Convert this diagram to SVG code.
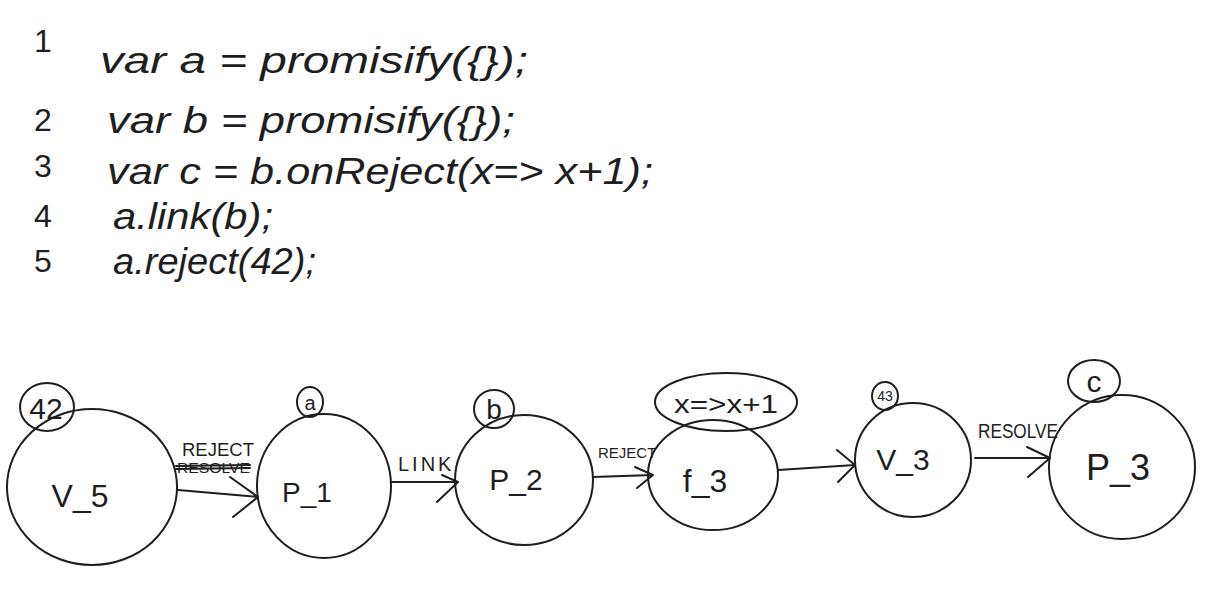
<svg xmlns="http://www.w3.org/2000/svg" width="1207" height="593" viewBox="0 0 1207 593">
<style>
  .ln { fill: none; stroke: #1e1e1e; stroke-width: 2; stroke-linecap: round; stroke-linejoin: round; }
  .t { font-family: "Liberation Sans", "DejaVu Sans", sans-serif; fill: #1e1e1e; }
  .code { font-family: "Liberation Sans", "DejaVu Sans", sans-serif; font-style: italic; fill: #1e1e1e; font-size: 37px; }
  .num { font-family: "Liberation Sans", "DejaVu Sans", sans-serif; fill: #1e1e1e; font-size: 32px; }
</style>
<rect width="1207" height="593" fill="#ffffff"/>
<g id="code">
  <text class="num" x="34" y="52">1</text>
  <text class="code" x="100" y="73" textLength="428" lengthAdjust="spacingAndGlyphs">var a = promisify({});</text>
  <text class="num" x="34" y="131">2</text>
  <text class="code" x="107" y="133" textLength="408" lengthAdjust="spacingAndGlyphs">var b = promisify({});</text>
  <text class="num" x="34" y="177">3</text>
  <text class="code" x="107" y="184" textLength="546" lengthAdjust="spacingAndGlyphs">var c = b.onReject(x=&gt; x+1);</text>
  <text class="num" x="34" y="227">4</text>
  <text class="code" x="113" y="229" textLength="160" lengthAdjust="spacingAndGlyphs">a.link(b);</text>
  <text class="num" x="34" y="272">5</text>
  <text class="code" x="113" y="274" textLength="203" lengthAdjust="spacingAndGlyphs">a.reject(42);</text>
</g>
<g id="connectors">
  <path class="ln" d="M178,490 L258,497 M230,477 L258,497 L233,517"/>
  <path class="ln" d="M391,482 L458,482 M442,475 L458,482 L437,502"/>
  <path class="ln" d="M593,477 L653,475 M635,467 L653,475 L637,488"/>
  <path class="ln" d="M778,470 L855,465 M837,450 L855,465 L838,482"/>
  <path class="ln" d="M975,458 L1050,458 M1027,447 L1050,458 L1028,477"/>
  <text class="t" x="182" y="456" font-size="19" textLength="72" lengthAdjust="spacingAndGlyphs">REJECT</text>
  <text class="t" x="177" y="473" font-size="15" textLength="73" lengthAdjust="spacingAndGlyphs">RESOLVE</text>
  <path class="ln" d="M176,466 L250,465 M176,469 L250,468" stroke-width="2.5"/>
  <text class="t" x="398" y="471" font-size="20" letter-spacing="3">LINK</text>
  <text class="t" x="598" y="458" font-size="15">REJECT</text>
  <text class="t" x="978" y="438" font-size="20" textLength="80" lengthAdjust="spacingAndGlyphs">RESOLVE</text>
</g>
<g id="node-v5">
  <ellipse class="ln" cx="92" cy="487" rx="85" ry="78"/>
  <text class="t" x="80" y="507" font-size="32" text-anchor="middle">V_5</text>
</g>
<g id="badge-42">
  <ellipse class="ln" cx="47" cy="407" rx="27" ry="24"/>
  <text class="t" x="46" y="419" font-size="30" text-anchor="middle">42</text>
</g>
<g id="node-p1">
  <ellipse class="ln" cx="324" cy="486" rx="67" ry="72"/>
  <text class="t" x="307" y="502" font-size="28" text-anchor="middle">P_1</text>
</g>
<g id="badge-a">
  <ellipse class="ln" cx="310" cy="402" rx="13" ry="15"/>
  <text class="t" x="310" y="410" font-size="20" text-anchor="middle">a</text>
</g>
<g id="node-p2">
  <ellipse class="ln" cx="524" cy="480" rx="69" ry="65"/>
  <text class="t" x="516" y="490" font-size="30" text-anchor="middle">P_2</text>
</g>
<g id="badge-b">
  <ellipse class="ln" cx="494" cy="409" rx="20" ry="19"/>
  <text class="t" x="494" y="419" font-size="28" text-anchor="middle">b</text>
</g>
<g id="node-f3">
  <ellipse class="ln" cx="713" cy="475" rx="65" ry="55"/>
  <text class="t" x="705" y="492" font-size="32" text-anchor="middle">f_3</text>
</g>
<g id="badge-fn">
  <ellipse class="ln" cx="726" cy="402" rx="71" ry="29"/>
  <text class="t" x="726" y="413" font-size="26" text-anchor="middle" textLength="104" lengthAdjust="spacingAndGlyphs">x=&gt;x+1</text>
</g>
<g id="node-v3">
  <ellipse class="ln" cx="913" cy="460" rx="58" ry="57"/>
  <text class="t" x="903" y="470" font-size="30" text-anchor="middle">V_3</text>
</g>
<g id="badge-43">
  <ellipse class="ln" cx="885" cy="396" rx="13" ry="14"/>
  <text class="t" x="885" y="401" font-size="14" text-anchor="middle">43</text>
</g>
<g id="node-p3">
  <ellipse class="ln" cx="1122" cy="467" rx="73" ry="72"/>
  <text class="t" x="1118" y="480" font-size="36" text-anchor="middle">P_3</text>
</g>
<g id="badge-c">
  <ellipse class="ln" cx="1094" cy="381" rx="26" ry="21"/>
  <text class="t" x="1094" y="392" font-size="30" text-anchor="middle">c</text>
</g>
</svg>
